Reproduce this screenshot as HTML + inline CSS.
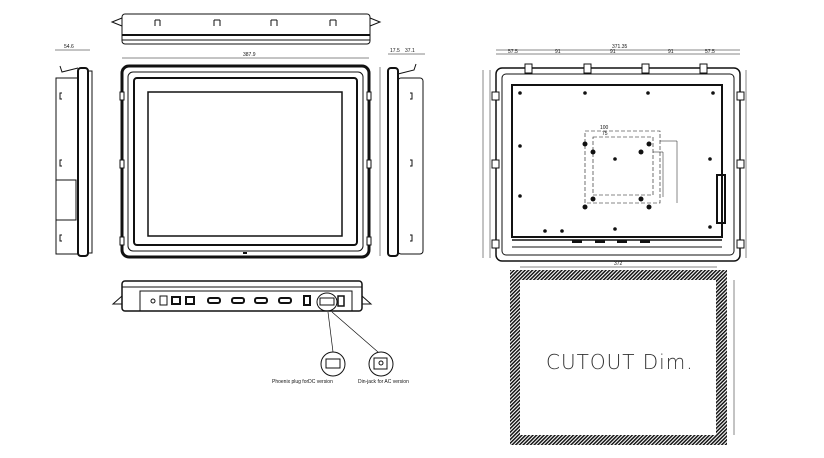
<!DOCTYPE html>
<html><head><meta charset="utf-8"><style>
html,body{margin:0;padding:0;background:#fff;width:824px;height:458px;overflow:hidden}
svg{display:block}
text{font-family:"Liberation Sans",sans-serif;fill:#111}
</style></head><body>
<svg width="824" height="458" viewBox="0 0 824 458" xmlns="http://www.w3.org/2000/svg">
<defs>
<pattern id="h" patternUnits="userSpaceOnUse" width="2.6" height="2.6" patternTransform="rotate(45)">
<rect width="2.6" height="2.6" fill="#fff"/><rect width="1.5" height="2.6" fill="#111"/></pattern>
</defs>
<g fill="none" stroke="#111" stroke-width="1">
<rect x="122" y="14" width="248" height="30" rx="3"/>
<line x1="122" y1="35" x2="370" y2="35" stroke-width="2"/>
<line x1="122" y1="40" x2="370" y2="40"/>
<path d="M122 18 L112 22 L122 26 M370 18 L380 22 L370 26"/>
<path d="M155 20 v6 M160 20 v6 M155 20 h5 M214 20 v6 M220 20 v6 M214 20h6 M271 20v6 M277 20v6 M271 20h6 M330 20v6 M336 20v6 M330 20h6"/>
<line x1="122" y1="58" x2="369" y2="58" stroke-width="0.5"/>
<rect x="122" y="66" width="247" height="191" rx="7" stroke-width="3"/>
<rect x="128" y="72" width="235" height="179" rx="5"/>
<rect x="134" y="78" width="223" height="167" rx="3" stroke-width="2"/>
<rect x="148" y="92" width="194" height="144" stroke-width="1.5"/>
<line x1="380" y1="67" x2="380" y2="256" stroke-width="0.5"/>
<line x1="55" y1="50" x2="90" y2="50" stroke-width="0.5"/>
<rect x="56" y="78" width="22" height="176"/>
<rect x="78" y="68" width="10" height="188" rx="3" stroke-width="2"/>
<rect x="88" y="71" width="4" height="182"/>
<rect x="56" y="180" width="20" height="40"/>
<path d="M62 93 h-2 v6 h2 M62 160 h-2 v6 h2 M62 235 h-2 v6 h2"/>
<path d="M78 68 L62 72 L60 66"/>
<rect x="388" y="68" width="10" height="188" rx="3" stroke-width="2"/>
<rect x="398" y="78" width="25" height="176" rx="3"/>
<path d="M410 93 h2 v6 h-2 M410 160 h2 v6 h-2 M410 235 h2 v6 h-2"/>
<path d="M398 74 L414 70 L416 64"/>
<line x1="388" y1="54" x2="425" y2="54" stroke-width="0.5"/>
<rect x="122" y="281" width="240" height="30" rx="3" stroke-width="1.5"/>
<line x1="122" y1="287" x2="362" y2="287"/>
<rect x="140" y="291" width="212" height="20"/>
<path d="M122 296 L113 304 L122 304 M362 296 L371 304 L362 304"/>
<circle cx="153" cy="301" r="2"/>
<rect x="160" y="296" width="7" height="9"/>
<rect x="172" y="297" width="8" height="7" stroke-width="2"/>
<rect x="186" y="297" width="8" height="7" stroke-width="2"/>
<rect x="208" y="298" width="12" height="5" rx="2" stroke-width="2"/>
<rect x="232" y="298" width="12" height="5" rx="2" stroke-width="2"/>
<rect x="255" y="298" width="12" height="5" rx="2" stroke-width="2"/>
<rect x="279" y="298" width="12" height="5" rx="2" stroke-width="2"/>
<rect x="304" y="296" width="6" height="9" stroke-width="2"/>
<ellipse cx="327" cy="302" rx="10" ry="9"/>
<rect x="320" y="298" width="14" height="7"/>
<rect x="338" y="296" width="6" height="10" stroke-width="1.5"/>
<path d="M328 312 L333 352 M332 312 L378 352" stroke-width="0.7"/>
<circle cx="333" cy="364" r="12"/>
<rect x="326" y="359" width="14" height="9"/>
<circle cx="381" cy="364" r="12"/>
<rect x="374" y="358" width="13" height="11"/>
<circle cx="381" cy="363" r="2"/>
<line x1="496" y1="50" x2="740" y2="50" stroke-width="0.5"/>
<line x1="496" y1="54" x2="740" y2="54" stroke-width="0.5"/>
<rect x="496" y="68" width="244" height="193" rx="6" stroke-width="1.5"/>
<rect x="502" y="74" width="232" height="181" rx="4"/>
<rect x="512" y="85" width="210" height="152" stroke-width="2"/>
<line x1="512" y1="240" x2="722" y2="240" stroke-width="1.5"/>
<line x1="512" y1="247" x2="722" y2="247"/>
<rect x="585" y="131" width="75" height="72" stroke-dasharray="4 2" stroke-width="0.6"/>
<rect x="593" y="137" width="60" height="58" stroke-dasharray="4 2" stroke-width="0.6"/>
<path d="M660 141 h17 v62 M653 152 h10 v45" stroke-width="0.5"/>
<rect x="717" y="175" width="8" height="48" stroke-width="2"/>
<line x1="490" y1="70" x2="490" y2="258" stroke-width="0.5"/>
<line x1="483" y1="70" x2="483" y2="258" stroke-width="0.5"/>
<line x1="746" y1="70" x2="746" y2="258" stroke-width="0.5"/>
<line x1="520" y1="267" x2="717" y2="267" stroke-width="0.5"/>
<line x1="734" y1="280" x2="734" y2="435" stroke-width="0.5"/>
</g>
<g fill="#fff" stroke="#111">
<rect x="525" y="64" width="7" height="9"/><rect x="584" y="64" width="7" height="9"/><rect x="642" y="64" width="7" height="9"/><rect x="700" y="64" width="7" height="9"/>
<rect x="492" y="92" width="7" height="8"/><rect x="492" y="160" width="7" height="8"/><rect x="492" y="240" width="7" height="8"/>
<rect x="737" y="92" width="7" height="8"/><rect x="737" y="160" width="7" height="8"/><rect x="737" y="240" width="7" height="8"/>
<rect x="120" y="92" width="4" height="8"/><rect x="120" y="160" width="4" height="8"/><rect x="120" y="237" width="4" height="8"/>
<rect x="367" y="92" width="4" height="8"/><rect x="367" y="160" width="4" height="8"/><rect x="367" y="237" width="4" height="8"/>
</g>
<g fill="#111">
<circle cx="520" cy="93" r="1.8"/><circle cx="585" cy="93" r="1.8"/><circle cx="648" cy="93" r="1.8"/><circle cx="713" cy="93" r="1.8"/>
<circle cx="520" cy="146" r="1.8"/><circle cx="520" cy="196" r="1.8"/><circle cx="710" cy="159" r="1.8"/><circle cx="615" cy="159" r="1.8"/>
<circle cx="585" cy="144" r="2.5"/><circle cx="649" cy="144" r="2.5"/><circle cx="593" cy="152" r="2.5"/><circle cx="641" cy="152" r="2.5"/>
<circle cx="593" cy="199" r="2.5"/><circle cx="641" cy="199" r="2.5"/><circle cx="585" cy="207" r="2.5"/><circle cx="649" cy="207" r="2.5"/>
<circle cx="545" cy="231" r="1.8"/><circle cx="562" cy="231" r="1.8"/><circle cx="615" cy="229" r="1.8"/><circle cx="710" cy="227" r="1.8"/>
<rect x="243" y="252" width="4" height="2"/>
<rect x="572" y="240" width="10" height="3"/><rect x="595" y="240" width="10" height="3"/><rect x="617" y="240" width="10" height="3"/><rect x="640" y="240" width="10" height="3"/>
</g>
<path d="M510 270 H727 V445 H510 Z M520 280 V435 H716 V280 Z" fill="url(#h)" fill-rule="evenodd"/>
<text x="546" y="369" font-size="20" font-weight="300" letter-spacing="1" style="font-family:'DejaVu Sans',sans-serif;fill:#333">CUTOUT  Dim.</text>
<g font-size="5">
<text x="243" y="56">387.9</text><text x="64" y="48">54.6</text><text x="390" y="52">17.5</text><text x="405" y="52">37.1</text>
<text x="612" y="48">371.35</text><text x="508" y="53">57.5</text><text x="555" y="53">91</text><text x="610" y="53">91</text><text x="668" y="53">91</text><text x="705" y="53">57.5</text>
<text x="614" y="265">372</text><text x="600" y="129">100</text><text x="602" y="135">75</text>
<text x="272" y="383">Phoenix plug forDC version</text><text x="358" y="383">Din-jack for AC version</text>
</g>
</svg>
</body></html>
